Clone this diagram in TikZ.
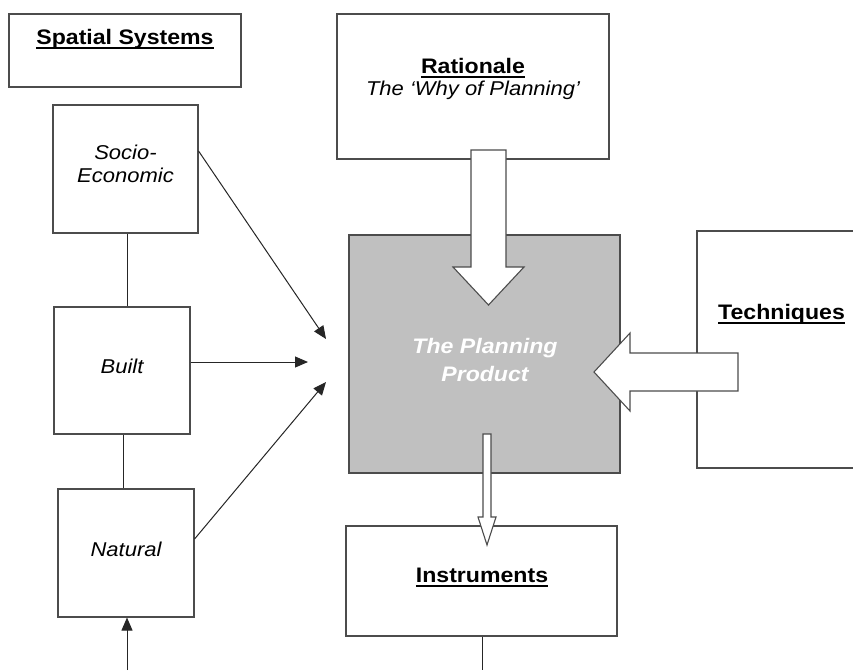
\documentclass[tikz,border=0pt]{standalone}
\usepackage{fontspec}
\setmainfont{Liberation Sans}[FakeStretch=1.1]
\usetikzlibrary{arrows.meta}
\newcommand\myul[1]{\leavevmode\setbox0=\hbox{#1}\rlap{\vrule width\wd0 height -3pt depth 5pt}\box0}
\definecolor{prodgray}{HTML}{C0C0C0}
\begin{document}
\begin{tikzpicture}[x=1pt,y=-1pt,
  box/.style={draw=black!70, line width=1.1pt, fill=white, inner sep=0pt},
  ttl/.style={font=\fontsize{21}{25}\selectfont\bfseries, anchor=base, inner sep=0pt},
  itl/.style={font=\fontsize{20}{23}\selectfont\itshape, anchor=base, inner sep=0pt},
  conn/.style={line width=1pt, draw=black!85},
  arr/.style={conn, -{Triangle[length=13pt,width=11pt]}},
  blk/.style={draw=black!70, line width=1.1pt, fill=white, line join=miter}]
\useasboundingbox[fill=white] (0,0) rectangle (853,670);

% boxes
\node[box, minimum width=232pt, minimum height=73pt] (ss) at (125,50.5) {};
\node[box, minimum width=145pt, minimum height=128pt] (socio) at (125.5,169) {};
\node[box, minimum width=136pt, minimum height=127pt] (built) at (122,370.5) {};
\node[box, minimum width=136pt, minimum height=128pt] (natural) at (126,553) {};
\node[box, minimum width=272pt, minimum height=145pt] (rat) at (473,86.5) {};
\node[box, fill=prodgray, minimum width=271pt, minimum height=238pt] (prod) at (484.5,354) {};
\node[box, minimum width=170pt, minimum height=237pt] (tech) at (782,349.5) {};
\node[box, minimum width=271pt, minimum height=110pt] (inst) at (481.5,581) {};

% texts
\node[ttl] (sst) at (125,44) {\myul{Spatial Systems}};
\node[itl] (sociot1) at (125.5,159) {Socio-};
\node[itl] (sociot2) at (125.5,182) {Economic};
\node[itl] (builtt) at (122,373) {Built};
\node[itl] (naturalt) at (126,556) {Natural};
\node[ttl] (ratt) at (473,73) {\myul{Rationale}};
\node[itl] (ratt2) at (473,95) {The ‘Why of Planning’};
\node[ttl, anchor=base west] (techt) at (718,319) {\myul{Techniques}};
\node[ttl] (instt) at (482,582) {\myul{Instruments}};

% thin connectors
\coordinate (c1) at (326,339);
\coordinate (c2) at (308,362);
\coordinate (c3) at (326,382);
\coordinate (cb) at (127,670);
\coordinate (ci) at (482,670);
\draw[arr] ([yshift=18pt]socio.east) -- (c1);
\draw[arr] ([yshift=8.5pt]built.east) -- (c2);
\draw[arr] ([yshift=14pt]natural.east) -- (c3);
\draw[arr] (cb) -- (cb |- natural.south);
\draw[conn] ([xshift=1.5pt]socio.south) -- ([xshift=1.5pt]socio.south |- built.north);
\draw[conn] ([xshift=1pt]built.south) -- ([xshift=1pt]built.south |- natural.north);
\draw[conn] (ci |- inst.south) -- (ci);

% block arrows
\draw[blk] (471,150) -- (506,150) -- (506,267) -- (524,267) -- (488.5,305) -- (453,267) -- (471,267) -- cycle;
\draw[blk] (738,353) -- (738,391) -- (630,391) -- (630,411) -- (594,372) -- (630,333) -- (630,353) -- cycle;
\draw[blk] (483,434) -- (491,434) -- (491,517) -- (496,517) -- (487,545) -- (478,517) -- (483,517) -- cycle;

% product text
\node[font=\fontsize{21}{25}\selectfont\bfseries\itshape, text=white, anchor=base, inner sep=0pt] (pt1) at (485,353) {The Planning};
\node[font=\fontsize{21}{25}\selectfont\bfseries\itshape, text=white, anchor=base, inner sep=0pt] (pt2) at (485,381) {Product};
\end{tikzpicture}
\end{document}
